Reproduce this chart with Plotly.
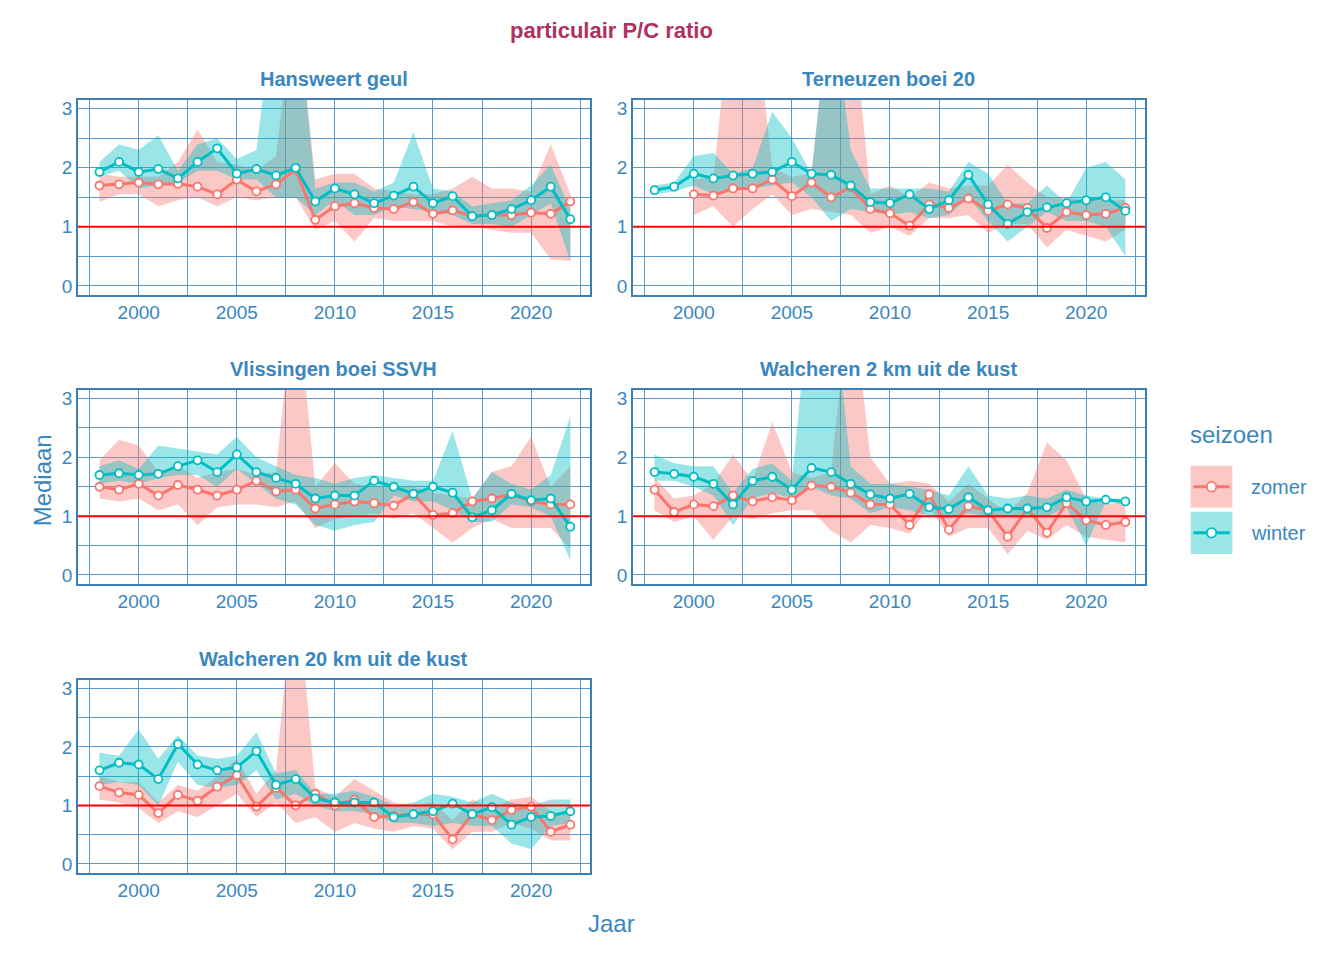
import plotly.graph_objects as go

years = list(range(1998, 2023))
stations = ["Hansweert geul", "Terneuzen boei 20", "Vlissingen boei SSVH",
            "Walcheren 2 km uit de kust", "Walcheren 20 km uit de kust"]

# median, low, high per station and season
zomer_med = [
    [1.7,1.72,1.75,1.72,1.73,1.68,1.55,1.8,1.6,1.72,1.97,1.12,1.35,1.4,1.32,1.3,1.42,1.22,1.28,1.18,1.2,1.2,1.24,1.22,1.43],
    [None,None,1.55,1.53,1.65,1.65,1.8,1.52,1.75,1.5,1.67,1.3,1.23,1.02,1.38,1.32,1.48,1.27,1.38,1.32,0.98,1.25,1.2,1.22,1.32],
    [1.5,1.45,1.55,1.35,1.53,1.45,1.35,1.45,1.6,1.42,1.45,1.13,1.2,1.25,1.22,1.18,1.38,1.02,1.05,1.25,1.3,1.37,1.25,1.2,1.2],
    [1.45,1.07,1.2,1.17,1.35,1.25,1.32,1.27,1.52,1.5,1.4,1.2,1.2,0.85,1.37,0.77,1.17,1.1,0.65,1.13,0.72,1.22,0.93,0.85,0.9],
    [1.33,1.22,1.18,0.87,1.18,1.08,1.32,1.52,0.98,1.3,1.0,1.2,1.0,1.1,0.8,0.82,0.85,0.85,0.42,0.85,0.75,0.92,0.98,0.55,0.67],
]
zomer_low = [
    [1.42,1.55,1.55,1.35,1.45,1.5,1.35,1.5,1.45,1.5,1.5,0.95,1.1,0.75,1.15,1.1,1.1,1.1,1.0,1.0,0.95,0.9,0.9,0.45,0.42],
    [None,None,1.2,1.35,1.0,1.3,1.55,1.2,1.3,1.25,1.2,0.9,1.0,0.85,1.15,1.15,1.2,0.9,1.05,1.05,0.65,0.95,0.85,0.75,0.95],
    [1.3,1.25,1.3,1.1,1.2,0.85,1.15,1.2,1.2,1.15,1.25,0.8,0.95,1.0,1.05,0.95,1.05,0.8,0.55,0.8,0.95,0.8,0.8,0.8,0.45],
    [1.1,0.9,1.0,0.6,1.0,0.95,1.05,1.1,1.1,0.75,0.55,0.85,0.8,0.7,1.15,0.65,0.8,0.8,0.35,0.75,0.6,0.85,0.65,0.6,0.55],
    [1.1,1.05,0.95,0.7,0.9,0.8,1.0,1.2,0.8,1.05,0.7,0.8,0.55,0.7,0.6,0.55,0.65,0.6,0.25,0.55,0.55,0.7,0.6,0.4,0.4],
]
zomer_high = [
    [1.9,1.85,1.85,1.85,2.1,2.65,2.1,2.05,1.95,2.2,5,1.8,1.9,1.9,1.65,1.6,1.55,1.55,1.65,1.85,1.65,1.65,1.6,2.4,1.55],
    [None,None,1.8,1.85,5,5,2.0,1.85,1.9,5,5,1.55,1.7,1.5,1.75,1.65,1.7,1.7,2.05,1.75,1.5,1.5,1.45,1.45,1.45],
    [1.95,2.3,2.2,1.75,1.85,1.65,1.75,1.8,1.7,1.75,5,1.5,1.9,1.55,1.5,1.5,1.5,1.4,1.35,1.3,1.75,1.85,2.35,1.5,1.85],
    [1.65,1.3,1.35,1.55,2.05,1.6,2.6,1.75,1.65,1.75,5,2.0,1.55,1.6,1.55,1.25,1.55,1.3,1.05,1.4,2.25,1.95,1.3,1.2,1.25],
    [1.5,1.4,1.4,1.05,1.35,1.25,1.5,1.8,1.2,1.6,5,1.3,1.15,1.45,1.25,1.05,1.0,1.05,0.75,1.1,0.95,1.1,1.15,0.9,0.85],
]
winter_med = [
    [1.93,2.1,1.93,1.98,1.82,2.1,2.33,1.9,1.98,1.87,2.0,1.43,1.65,1.55,1.4,1.53,1.68,1.4,1.52,1.18,1.2,1.3,1.45,1.68,1.13],
    [1.62,1.68,1.9,1.82,1.87,1.9,1.93,2.1,1.9,1.88,1.7,1.42,1.4,1.55,1.3,1.45,1.88,1.38,1.05,1.25,1.33,1.4,1.45,1.5,1.27],
    [1.7,1.73,1.7,1.72,1.85,1.95,1.75,2.05,1.75,1.65,1.55,1.3,1.35,1.35,1.6,1.5,1.38,1.5,1.4,0.98,1.1,1.38,1.27,1.3,0.82],
    [1.75,1.72,1.67,1.55,1.2,1.6,1.67,1.45,1.82,1.75,1.55,1.37,1.3,1.38,1.15,1.12,1.32,1.1,1.13,1.13,1.15,1.32,1.25,1.28,1.25],
    [1.6,1.73,1.7,1.45,2.05,1.7,1.6,1.65,1.93,1.35,1.45,1.12,1.05,1.05,1.05,0.8,0.85,0.9,1.03,0.85,0.97,0.67,0.8,0.82,0.9],
]
winter_low = [
    [1.85,1.95,1.65,1.7,1.75,1.95,1.95,1.8,1.8,1.5,1.5,1.2,1.45,1.2,1.2,1.35,1.3,1.25,1.2,1.05,1.05,1.0,1.2,1.4,0.42],
    [1.55,1.6,1.7,1.55,1.6,1.65,1.7,1.75,1.5,1.1,1.3,1.25,1.2,1.25,1.15,1.2,1.5,1.1,0.75,1.0,1.25,1.1,1.1,1.0,0.5],
    [1.55,1.6,1.55,1.65,1.7,1.7,1.5,1.8,1.55,1.3,1.2,0.85,0.75,0.85,0.9,1.35,1.25,1.25,1.1,0.9,0.9,1.2,1.15,1.0,0.25],
    [1.6,1.6,1.5,1.35,0.85,1.3,1.4,1.3,1.5,1.35,1.3,1.05,1.15,1.1,1.0,0.95,1.05,1.0,1.0,1.0,1.0,1.15,0.5,1.25,1.2],
    [1.35,1.4,1.35,1.0,1.75,1.35,1.3,1.35,1.6,1.1,1.2,1.0,0.9,0.9,0.85,0.7,0.7,0.65,0.7,0.65,0.65,0.35,0.25,0.65,0.7],
]
winter_high = [
    [2.1,2.4,2.3,2.55,1.95,2.4,2.5,2.15,2.3,5,5,1.65,1.75,1.75,1.6,1.75,2.6,1.65,1.6,1.35,1.4,1.45,1.7,2.05,1.3],
    [1.7,1.75,2.2,2.25,1.9,2.0,2.95,2.5,1.9,5,2.3,1.65,1.65,1.65,1.65,1.6,2.1,1.9,1.4,1.4,1.7,1.4,2.0,2.1,1.8],
    [1.85,1.95,1.8,2.2,2.15,2.1,2.05,2.35,2.0,1.85,1.7,1.65,1.55,1.65,1.7,1.65,1.6,1.6,2.45,1.3,1.75,1.55,1.45,1.7,2.7],
    [2.05,1.9,1.85,1.85,1.4,1.8,1.9,1.6,5,5,1.85,1.55,1.55,1.5,1.45,1.35,1.85,1.35,1.3,1.35,1.3,1.45,1.35,1.3,1.3],
    [1.9,1.85,2.3,1.8,2.2,1.85,1.8,1.85,2.25,1.55,1.6,1.2,1.2,1.25,1.15,1.0,1.05,1.2,1.15,1.05,1.2,1.05,1.0,1.1,1.1],
]

ZOMER = "#F8766D"
WINTER = "#00BFC4"
TXT = "#3A87C0"
GRID = "#5B9BC8"

# page body margin offsets everything by ~8px; compensate
DX = -0.006
DY = 0.0083

xdom = [[0.058 + DX, 0.439 + DX], [0.471 + DX, 0.852 + DX]]
ydom = [[0.693 + DY, 0.896 + DY], [0.392 + DY, 0.594 + DY], [0.091 + DY, 0.292 + DY]]

fig = go.Figure()
layout = {}

for i, name in enumerate(stations):
    r, c = divmod(i, 2)
    ax = "" if i == 0 else str(i + 1)
    xa, ya = "x" + ax, "y" + ax
    for med, lo, hi, col, fillc in [
        (zomer_med[i], zomer_low[i], zomer_high[i], ZOMER, "rgba(248,118,109,0.4)"),
        (winter_med[i], winter_low[i], winter_high[i], WINTER, "rgba(0,191,196,0.4)"),
    ]:
        idx = [k for k in range(len(years)) if med[k] is not None]
        xs = [years[k] for k in idx]
        fig.add_trace(go.Scatter(
            x=xs + xs[::-1], y=[hi[k] for k in idx] + [lo[k] for k in idx][::-1],
            fill="toself", fillcolor=fillc, line=dict(width=0), mode="lines",
            hoverinfo="skip", showlegend=False, xaxis=xa, yaxis=ya))
    for med, col in [(zomer_med[i], ZOMER), (winter_med[i], WINTER)]:
        idx = [k for k in range(len(years)) if med[k] is not None]
        fig.add_trace(go.Scatter(
            x=[years[k] for k in idx], y=[med[k] for k in idx], mode="lines+markers",
            line=dict(color=col, width=3),
            marker=dict(size=8, color="white", line=dict(color=col, width=1.8)),
            showlegend=False, xaxis=xa, yaxis=ya))
    fig.add_trace(go.Scatter(x=[1996.9, 2023.0], y=[1, 1], mode="lines",
                             line=dict(color="red", width=2), showlegend=False,
                             hoverinfo="skip", xaxis=xa, yaxis=ya))
    axstyle = dict(showline=True, mirror=True, linecolor="#3A7FB5", linewidth=1.5,
                   gridcolor=GRID, gridwidth=0.8, zeroline=False, ticks="", automargin=False,
                   tickfont=dict(size=19, color=TXT, family="Liberation Sans"))
    layout["xaxis" + ax] = dict(axstyle, domain=xdom[c], anchor=ya, range=[1996.9, 2023.0],
                                tickvals=[2000, 2005, 2010, 2015, 2020],
                                minor=dict(dtick=2.5, tick0=1997.5, showgrid=True,
                                           gridcolor=GRID, gridwidth=0.4))
    layout["yaxis" + ax] = dict(axstyle, domain=ydom[r], anchor=xa, range=[-0.15, 3.15],
                                tickvals=[0, 1, 2, 3],
                                minor=dict(dtick=0.5, tick0=0.5, showgrid=True,
                                           gridcolor=GRID, gridwidth=0.4))
    layout.setdefault("annotations", []).append(dict(
        text="<b>%s</b>" % name, x=sum(xdom[c]) / 2, y=ydom[r][1] + 0.008,
        xref="paper", yref="paper", xanchor="center", yanchor="bottom", showarrow=False,
        font=dict(size=20, color=TXT, family="Liberation Sans")))

ann = layout["annotations"]
ann += [
    dict(text="Jaar", x=0.455 + DX, y=0.022 + DY, xref="paper", yref="paper", showarrow=False,
         font=dict(size=24, color=TXT, family="Liberation Sans")),
    dict(text="Mediaan", x=0.02 + DX, y=0.5 + DY, xref="paper", yref="paper", showarrow=False,
         textangle=-90, font=dict(size=24, color=TXT, family="Liberation Sans")),
    dict(text="seizoen", x=0.884 + DX, y=0.547 + DY, xref="paper", yref="paper", showarrow=False,
         xanchor="left", font=dict(size=24, color=TXT, family="Liberation Sans")),
    dict(text="zomer", x=0.929 + DX, y=0.493 + DY, xref="paper", yref="paper", showarrow=False,
         xanchor="left", font=dict(size=20, color=TXT, family="Liberation Sans")),
    dict(text="winter", x=0.929 + DX, y=0.445 + DY, xref="paper", yref="paper", showarrow=False,
         xanchor="left", font=dict(size=20, color=TXT, family="Liberation Sans")),
]

shapes = []
for yc, col, fillc in [(0.493 + DY, ZOMER, "rgba(248,118,109,0.4)"), (0.445 + DY, WINTER, "rgba(0,191,196,0.4)")]:
    shapes.append(dict(type="rect", xref="paper", yref="paper", x0=0.886 + DX, x1=0.917 + DX,
                       y0=yc - 0.022, y1=yc + 0.022, fillcolor=fillc, line=dict(width=0)))
    shapes.append(dict(type="line", xref="paper", yref="paper", x0=0.888 + DX, x1=0.915 + DX,
                       y0=yc, y1=yc, line=dict(color=col, width=3)))
    shapes.append(dict(type="circle", xref="paper", yref="paper", x0=0.898 + DX, x1=0.905 + DX,
                       y0=yc - 0.005, y1=yc + 0.005, fillcolor="white", line=dict(color=col, width=1.8)))

fig.update_layout(**layout)
fig.update_layout(
    width=1344, height=960, margin=dict(l=0, r=0, t=0, b=0),
    plot_bgcolor="white", paper_bgcolor="white", shapes=shapes,
    title=dict(text="<b>particulair P/C ratio</b>", x=0.455 + DX, y=0.977, xanchor="center",
               yanchor="middle", font=dict(size=22, color="#B03060", family="Liberation Sans")),
)

fig.write_html("out.html")
